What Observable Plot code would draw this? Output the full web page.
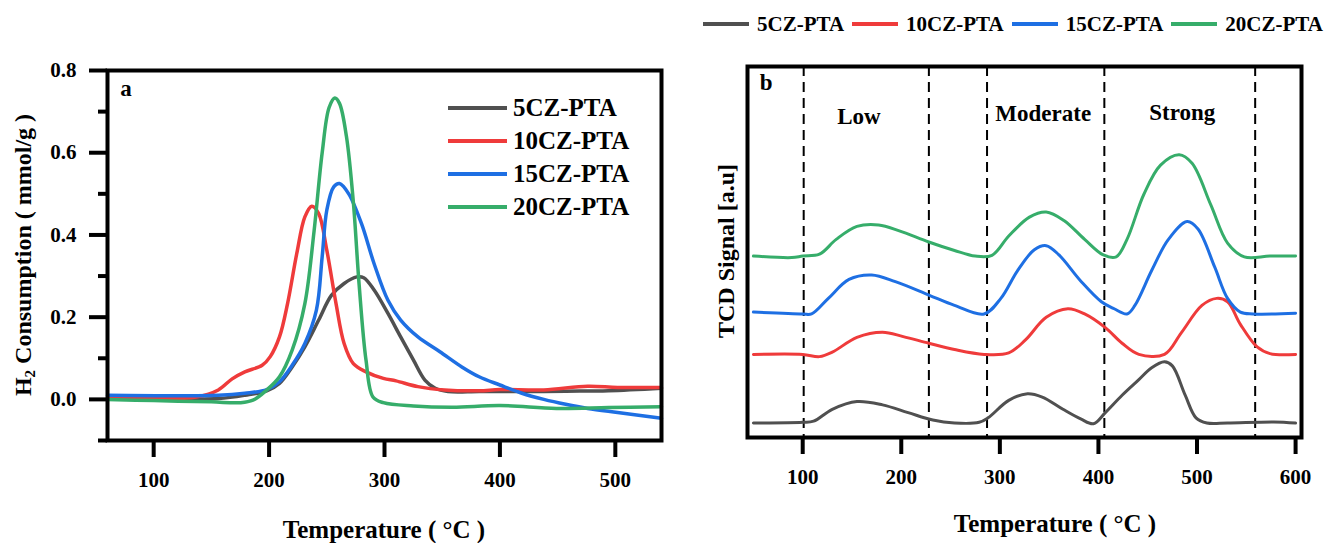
<!DOCTYPE html>
<html>
<head>
<meta charset="utf-8">
<script src="https://cdn.jsdelivr.net/npm/d3@7"></script>
<script src="https://cdn.jsdelivr.net/npm/@observablehq/plot@0.6"></script>
<style>
  html, body { margin: 0; padding: 0; background: #fff; }
  #root { position: relative; width: 1340px; height: 543px; overflow: hidden;
          font-family: "Liberation Serif", "Times New Roman", serif; font-weight: bold; color: #000; }
  .abs { position: absolute; white-space: nowrap; }
  .title { font-size: 25px; transform: translate(-50%, -50%); }
  .ytitle { font-size: 24px; transform: translate(-50%, -50%) rotate(-90deg); }
  .legrow { display: flex; align-items: center; }
  .sw { display: inline-block; height: 4px; }
</style>
</head>
<body>
<div id="root"></div>
<script>
// ---------- shared ----------
const seriesNames = ["5CZ-PTA", "10CZ-PTA", "15CZ-PTA", "20CZ-PTA"];
const seriesColors = ["#505050", "#ef3b3b", "#1e6fe3", "#36ad6a"];

// ---------- panel a : H2 consumption ----------
const a5 = [[60,0.002],[100,0.002],[156,0.002],[179,0.01],[198,0.021],[209,0.039],[220,0.079],[231,0.128],[243,0.193],[254,0.253],[265,0.282],[276,0.298],[282,0.296],[291,0.266],[303,0.209],[314,0.152],[325,0.096],[335,0.047],[344,0.027],[355,0.019],[382,0.019],[419,0.019],[457,0.02],[494,0.021],[540,0.027]];
const a10 = [[60,0.002],[100,0.002],[137,0.006],[156,0.023],[168,0.05],[179,0.067],[194,0.083],[201,0.104],[209,0.152],[216,0.233],[224,0.355],[231,0.444],[237,0.47],[243,0.452],[250,0.363],[258,0.233],[265,0.136],[273,0.087],[284,0.067],[299,0.051],[310,0.045],[329,0.031],[352,0.023],[382,0.021],[400,0.024],[438,0.023],[476,0.032],[502,0.029],[540,0.029]];
const a15 = [[60,0.01],[156,0.01],[179,0.015],[198,0.024],[209,0.043],[220,0.083],[231,0.136],[241,0.217],[246,0.347],[250,0.46],[256,0.517],[261,0.525],[269,0.5],[280,0.428],[291,0.33],[303,0.241],[314,0.193],[329,0.152],[348,0.116],[367,0.079],[382,0.055],[400,0.035],[419,0.015],[438,0],[457,-0.012],[476,-0.022],[502,-0.032],[540,-0.046]];
const a20 = [[60,0],[100,-0.003],[150,-0.006],[175,-0.008],[186,-0.002],[198,0.023],[209,0.055],[220,0.12],[231,0.233],[239,0.41],[246,0.6],[252,0.71],[257,0.733],[261,0.72],[267,0.64],[273,0.48],[278,0.28],[284,0.095],[290,0.006],[299,-0.008],[325,-0.016],[359,-0.019],[400,-0.015],[449,-0.022],[494,-0.02],[540,-0.018]];
const aXTicks = [100, 200, 300, 400, 500];
const aYTicks = [0, 0.2, 0.4, 0.6, 0.8];
const aYMinor = [-0.1, 0.1, 0.3, 0.5, 0.7];

// ---------- panel b : TCD signal ----------
const b5 = [[50,3.9],[100,4.1],[111,4.4],[130,7.6],[155,9.7],[181,8.8],[207,6.7],[232,4.7],[254,3.9],[279,4.1],[288,5.3],[309,10],[328,11.8],[343,10.9],[364,7.6],[382,5.0],[395,3.7],[407,6.7],[424,11.4],[441,15.6],[454,18.8],[467,20.4],[475,19.3],[488,11.4],[499,5.3],[510,3.9],[531,3.9],[578,4.2],[600,3.9]];
const b10 = [[50,22.4],[100,22.4],[117,21.8],[130,23],[155,27],[181,28.4],[202,27.2],[228,25.4],[254,23.7],[284,22.4],[309,22.8],[326,26.3],[347,32.4],[369,34.7],[386,33.3],[407,29.6],[424,25.4],[441,22.4],[467,22.4],[484,28.2],[505,35.6],[520,37.5],[531,36.6],[544,30.5],[561,24.4],[574,22.6],[600,22.4]];
const b15 = [[50,33.8],[100,33.3],[109,33.3],[126,37.5],[147,42.6],[170,43.8],[194,42],[228,38.4],[254,35.6],[284,33.3],[301,37.5],[318,45],[335,50.6],[347,51.7],[360,49.2],[382,42.2],[403,36.6],[416,34.7],[429,33.3],[437,35.6],[454,45],[471,53.4],[490,58.2],[501,56.2],[518,45.9],[531,37.5],[544,33.8],[557,33.3],[600,33.5]];
const b20 = [[50,48.9],[89,48.5],[100,48.9],[117,49.4],[134,53.4],[155,56.9],[177,57.3],[198,55.7],[228,52.7],[254,50.4],[275,48.9],[292,49.1],[309,54.3],[330,59.4],[347,60.8],[365,58.5],[386,53.4],[405,49.2],[418,48.7],[429,53.4],[446,65.5],[463,73.4],[482,76.2],[495,73.9],[514,62.7],[531,52.4],[548,48.7],[574,48.9],[600,48.9]];
const bXTicks = [100, 200, 300, 400, 500, 600];
const bDividers = [101, 228, 287, 406, 559];
const regionLabels = ["Low", "Moderate", "Strong"];
const regionX = [157, 344, 485];
const regionY = [86.6, 87.2, 87.7];

// ---------- build tables ----------
function table(arrs) {
  const out = [];
  arrs.forEach((arr, i) => arr.forEach(([t, v]) => out.push({series: seriesNames[i], t, v})));
  return out;
}
const dataA = table([a5, a10, a15, a20]);
const dataB = table([b5, b10, b15, b20]);

const font = "'Liberation Serif', 'Times New Roman', serif";
const root = document.getElementById("root");

function place(node, left, top) {
  const d = document.createElement("div");
  d.className = "abs";
  d.style.left = left + "px";
  d.style.top = top + "px";
  d.appendChild(node);
  root.appendChild(d);
}

// ---------- panel a plot ----------
const plotA = Plot.plot({
  width: 680, height: 543,
  marginLeft: 107, marginRight: 19, marginTop: 70, marginBottom: 103,
  x: {domain: [60, 540], label: null},
  y: {domain: [-0.1, 0.8], label: null},
  color: {domain: seriesNames, range: seriesColors},
  style: {fontFamily: font, fontWeight: "bold", fontSize: "21px", background: "transparent", color: "#000", overflow: "visible"},
  marks: [
    Plot.line(dataA, {x: "t", y: "v", z: "series", stroke: "series", strokeWidth: 3.5, curve: "catmull-rom"}),
    Plot.frame({stroke: "#000", strokeWidth: 4}),
    Plot.axisX({ticks: aXTicks, tickSize: 17, tickPadding: 15, strokeWidth: 4, fontSize: 21, tickFormat: d => String(d), label: null}),
    Plot.axisY({ticks: aYTicks, tickSize: 18, tickPadding: 13, strokeWidth: 4, fontSize: 21, tickFormat: d => d.toFixed(1), label: null}),
    Plot.axisY({ticks: aYMinor, tickSize: 9, strokeWidth: 4, tickFormat: () => "", label: null}),
    Plot.text(["a"], {x: [76], y: [0.756], text: d => d, fontSize: 23, fontWeight: "bold", textAnchor: "middle"})
  ]
});
place(plotA, 0, 0);

// ---------- panel b plot ----------
const plotB = Plot.plot({
  width: 660, height: 543,
  marginLeft: 67, marginRight: 39, marginTop: 66, marginBottom: 106,
  x: {domain: [44, 606], label: null},
  y: {domain: [0, 100], label: null, axis: null},
  color: {domain: seriesNames, range: seriesColors},
  style: {fontFamily: font, fontWeight: "bold", fontSize: "21px", background: "transparent", color: "#000", overflow: "visible"},
  marks: [
    Plot.ruleX(bDividers, {x: d => d, stroke: "#000", strokeWidth: 2, strokeDasharray: "10,6"}),
    Plot.line(dataB, {x: "t", y: "v", z: "series", stroke: "series", strokeWidth: 3, curve: "catmull-rom"}),
    Plot.frame({stroke: "#000", strokeWidth: 4}),
    Plot.axisX({ticks: bXTicks, tickSize: 17, tickPadding: 15, strokeWidth: 4, fontSize: 21, tickFormat: d => String(d), label: null}),
    Plot.text(["b"], {x: [63], y: [95.6], text: d => d, fontSize: 23, fontWeight: "bold", textAnchor: "middle"}),
    Plot.text(regionLabels, {x: (d, i) => regionX[i], y: (d, i) => regionY[i], text: d => d, fontSize: 23, fontWeight: "bold", textAnchor: "middle"})
  ]
});
place(plotB, 680, 0);

// ---------- axis titles ----------
function title(html, cx, cy, cls) {
  const d = document.createElement("div");
  d.className = "abs " + cls;
  d.style.left = cx + "px";
  d.style.top = cy + "px";
  d.innerHTML = html;
  root.appendChild(d);
}
title("Temperature ( °C )", 384, 530, "title");
title("Temperature ( °C )", 1055, 524, "title");
title("H<sub style='font-size:15px;vertical-align:-4px'>2</sub> Consumption ( mmol/g )", 24, 255, "ytitle");
title("TCD Signal [a.u]", 726, 251, "ytitle");

// ---------- legend inside panel a ----------
const legA = document.createElement("div");
legA.className = "abs";
legA.style.left = "448px";
legA.style.top = "91px";
seriesNames.forEach((name, i) => {
  const row = document.createElement("div");
  row.className = "legrow";
  row.style.height = "33px";
  row.style.fontSize = "25px";
  const sw = document.createElement("span");
  sw.className = "sw";
  sw.style.width = "59px";
  sw.style.background = seriesColors[i];
  sw.style.marginRight = "6px";
  const tx = document.createElement("span");
  tx.textContent = name;
  row.appendChild(sw); row.appendChild(tx);
  legA.appendChild(row);
});
root.appendChild(legA);

// ---------- legend on top ----------
const legB = document.createElement("div");
legB.className = "abs legrow";
legB.style.left = "703px";
legB.style.top = "11px";
legB.style.height = "26px";
legB.style.fontSize = "21px";
seriesNames.forEach((name, i) => {
  const sw = document.createElement("span");
  sw.className = "sw";
  sw.style.width = "46px";
  sw.style.background = seriesColors[i];
  sw.style.marginRight = "8px";
  const tx = document.createElement("span");
  tx.textContent = name;
  tx.style.marginRight = "8px";
  legB.appendChild(sw); legB.appendChild(tx);
});
root.appendChild(legB);
</script>
</body>
</html>
